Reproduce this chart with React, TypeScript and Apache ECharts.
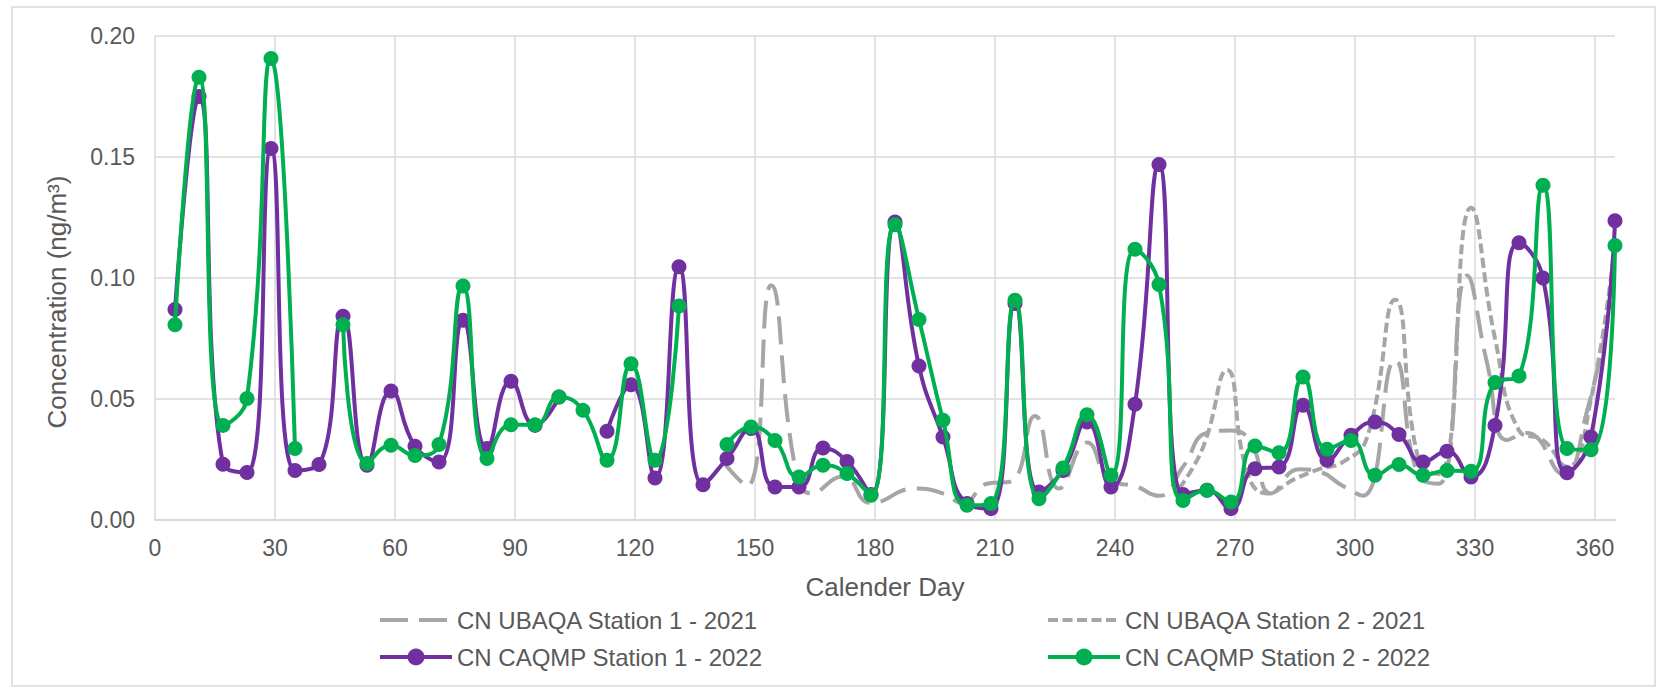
import React, { useEffect, useRef } from "react";
import * as echarts from "echarts";

// ---- Data ----
const sampleDays = [
  5, 11, 17, 23, 29, 35, 41, 47, 53, 59, 65, 71, 77, 83, 89, 95, 101, 107, 113, 119,
  125, 131, 137, 143, 149, 155, 161, 167, 173, 179, 185, 191, 197, 203, 209, 215, 221,
  227, 233, 239, 245, 251, 257, 263, 269, 275, 281, 287, 293, 299, 305, 311, 317, 323,
  329, 335, 341, 347, 353, 359, 365,
];

const caqmpStation1 = [
  0.087, 0.175, 0.023, 0.0196, 0.1535, 0.0205, 0.0229, 0.0842, 0.0226, 0.0533,
  0.0305, 0.024, 0.0825, 0.0295, 0.0573, 0.0391, 0.0508, null, 0.0367, 0.0559,
  0.0174, 0.1046, 0.0146, 0.0254, 0.0378, 0.0136, 0.0136, 0.0298, 0.0242, 0.0105,
  0.1231, 0.0636, 0.0343, 0.0068, 0.0047, 0.0895, 0.0116, 0.0205, 0.0405, 0.0136,
  0.0478, 0.1469, 0.0105, 0.0123, 0.0047, 0.0212, 0.0219, 0.0474, 0.0247, 0.035,
  0.0405, 0.0353, 0.024, 0.0284, 0.0178, 0.0391, 0.1146, 0.1, 0.0195, 0.0343, 0.1237,
];

const caqmpStation2 = [
  0.0807, 0.183, 0.0391, 0.0502, 0.1907, 0.0295, null, 0.0807, 0.0233, 0.0309,
  0.0267, 0.0312, 0.0967, 0.0254, 0.0394, 0.0394, 0.0508, 0.0453, 0.0247, 0.0646,
  0.0247, 0.0884, null, 0.0312, 0.0384, 0.0329, 0.0178, 0.0226, 0.0192, 0.0102,
  0.122, 0.0829, 0.0412, 0.0061, 0.0068, 0.0908, 0.0088, 0.0215, 0.0435, 0.0185,
  0.1119, 0.0973, 0.0081, 0.0123, 0.0074, 0.0306, 0.0278, 0.0591, 0.0292, 0.0329,
  0.0185, 0.0229, 0.0185, 0.0205, 0.0201, 0.0568, 0.0595, 0.1383, 0.0295, 0.029, 0.1134,
];

const ubaqa1Days = [
  142, 148, 154, 160, 164, 172, 179, 190, 197, 202, 208, 214, 220, 226, 233, 239, 245,
  251, 257, 263, 269, 274, 279, 286, 291, 297, 302, 310, 316, 321, 328, 333, 338, 343,
  352, 358, 364,
];
const ubaqaStation1 = [
  0.024, 0.014, 0.097, 0.022, 0.011, 0.018, 0.007, 0.013, 0.011, 0.007, 0.015, 0.016,
  0.043, 0.013, 0.032, 0.016, 0.014, 0.01, 0.022, 0.036, 0.037, 0.032, 0.011, 0.021,
  0.02, 0.014, 0.01, 0.066, 0.018, 0.015, 0.101, 0.065, 0.033, 0.036, 0.019, 0.045, 0.09,
];

const ubaqa2Days = [
  256, 262, 268, 273, 278, 285, 291, 297, 303, 310, 316, 321, 329, 335, 341, 347, 353,
  359, 365,
];
const ubaqaStation2 = [
  0.013, 0.03, 0.062, 0.02, 0.011, 0.017, 0.021, 0.024, 0.034, 0.091, 0.024, 0.019,
  0.129, 0.075, 0.037, 0.033, 0.022, 0.05, 0.115,
];

const seriesNames = [
  "CN UBAQA Station 1 - 2021",
  "CN UBAQA Station 2 - 2021",
  "CN CAQMP Station 1 - 2022",
  "CN CAQMP Station 2 - 2022",
];

const xMin = 0;
const xMax = 365;
const xInterval = 30;
const yMin = 0;
const yMax = 0.2;
const yInterval = 0.05;

const FONT = '"Liberation Sans", Arial, sans-serif';
const TEXT = "#595959";
const GRID = "#D9D9D9";
const GRAY = "#A6A6A6";
const PURPLE = "#7030A0";
const GREEN = "#00B050";

const LONG_DASH = [28, 11];
const SHORT_DASH = [10, 4.5];
const LINE_W = 4;

function pairs(xs: number[], ys: (number | null)[]) {
  return xs.map((x, i) => (ys[i] == null ? [x, "-"] : [x, ys[i]]));
}

const ICON_W = 72;

function legendAt(name: string, left: number, top: number) {
  return {
    data: [name],
    left,
    top,
    padding: 0,
    icon: "rect",
    itemWidth: ICON_W,
    itemHeight: 16,
    itemGap: 0,
    itemStyle: { opacity: 0 },
    selectedMode: false,
    textStyle: { fontSize: 24, color: TEXT, fontFamily: FONT, lineHeight: 28 },
  };
}

function legendIcon(left: number, cy: number, color: string, dash: number[] | null, marker: boolean) {
  const els: any[] = [
    {
      type: "line",
      silent: true,
      shape: { x1: left, y1: cy, x2: left + ICON_W, y2: cy },
      style: { stroke: color, lineWidth: LINE_W, lineDash: dash || undefined },
    },
  ];
  if (marker) {
    els.push({
      type: "circle",
      silent: true,
      shape: { cx: left + ICON_W / 2, cy, r: 8.5 },
      style: { fill: color },
    });
  }
  return els;
}

export default function App() {
  const ref = useRef<HTMLDivElement>(null);

  useEffect(() => {
    if (!ref.current) return;
    const chart = echarts.init(ref.current, null, { renderer: "svg" });

    const row1 = 620;
    const row2 = 657;
    const col1 = 380;
    const col2 = 1048;

    const option: any = {
      animation: false,
      backgroundColor: "#FFFFFF",
      textStyle: { fontFamily: FONT },
      grid: {
        left: 155,
        right: 52,
        top: 36,
        bottom: 173,
        containLabel: false,
        outerBoundsMode: "none",
      },
      xAxis: {
        type: "value",
        min: xMin,
        max: xMax,
        interval: xInterval,
        axisLabel: {
          fontSize: 23,
          color: TEXT,
          fontFamily: FONT,
          margin: 16,
          showMaxLabel: false,
          formatter: (v: number) => (v % xInterval === 0 ? String(v) : ""),
        },
        axisLine: { show: true, lineStyle: { color: GRID, width: 2 } },
        axisTick: { show: false },
        splitLine: {
          show: true,
          showMaxLine: false,
          lineStyle: { color: GRID, width: 1.5 },
        },
      },
      yAxis: {
        type: "value",
        min: yMin,
        max: yMax,
        interval: yInterval,
        axisLabel: {
          fontSize: 23,
          color: TEXT,
          fontFamily: FONT,
          margin: 20,
          formatter: (v: number) => v.toFixed(2),
        },
        axisLine: { show: false },
        axisTick: { show: false },
        splitLine: { show: true, lineStyle: { color: GRID, width: 1.5 } },
      },
      legend: [
        legendAt(seriesNames[0], col1, row1 - 14),
        legendAt(seriesNames[1], col2, row1 - 14),
        legendAt(seriesNames[2], col1, row2 - 14),
        legendAt(seriesNames[3], col2, row2 - 14),
      ],
      graphic: [
        {
          type: "rect",
          silent: true,
          shape: { x: 12, y: 7, width: 1643, height: 679 },
          style: { fill: "none", stroke: GRID, lineWidth: 1.5 },
        },
        {
          type: "text",
          silent: true,
          x: 885,
          y: 587,
          style: {
            text: "Calender Day",
            font: `26px ${FONT}`,
            fill: TEXT,
            align: "center",
            verticalAlign: "middle",
          },
        },
        {
          type: "text",
          silent: true,
          x: 57,
          y: 302,
          rotation: Math.PI / 2,
          style: {
            text: "Concentration (ng/m³)",
            font: `26px ${FONT}`,
            fill: TEXT,
            align: "center",
            verticalAlign: "middle",
          },
        },
        ...legendIcon(col1, row1, GRAY, LONG_DASH, false),
        ...legendIcon(col2, row1, GRAY, SHORT_DASH, false),
        ...legendIcon(col1, row2, PURPLE, null, true),
        ...legendIcon(col2, row2, GREEN, null, true),
      ],
      series: [
        {
          name: seriesNames[0],
          type: "line",
          data: pairs(ubaqa1Days, ubaqaStation1),
          smooth: 0.5,
          symbol: "none",
          lineStyle: { color: GRAY, width: LINE_W, type: LONG_DASH },
          itemStyle: { color: GRAY },
          z: 2,
        },
        {
          name: seriesNames[1],
          type: "line",
          data: pairs(ubaqa2Days, ubaqaStation2),
          smooth: 0.5,
          symbol: "none",
          lineStyle: { color: GRAY, width: LINE_W, type: SHORT_DASH },
          itemStyle: { color: GRAY },
          z: 2,
        },
        {
          name: seriesNames[2],
          type: "line",
          data: pairs(sampleDays, caqmpStation1),
          smooth: 0.5,
          connectNulls: false,
          symbol: "circle",
          symbolSize: 15,
          showAllSymbol: true,
          lineStyle: { color: PURPLE, width: LINE_W },
          itemStyle: { color: PURPLE },
          z: 3,
        },
        {
          name: seriesNames[3],
          type: "line",
          data: pairs(sampleDays, caqmpStation2),
          smooth: 0.5,
          connectNulls: false,
          symbol: "circle",
          symbolSize: 15,
          showAllSymbol: true,
          lineStyle: { color: GREEN, width: LINE_W },
          itemStyle: { color: GREEN },
          z: 4,
        },
      ],
    };

    chart.setOption(option);
    return () => chart.dispose();
  }, []);

  return (
    <div
      ref={ref}
      style={{ position: "absolute", left: 0, top: 0, width: 1667, height: 693, background: "#fff" }}
    />
  );
}
